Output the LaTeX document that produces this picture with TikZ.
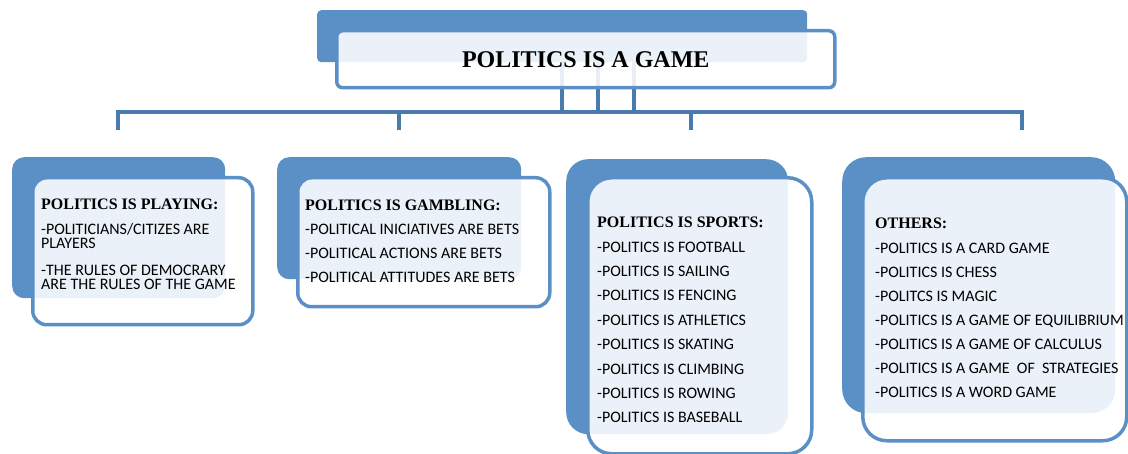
\documentclass[tikz,border=0pt]{standalone}
\usepackage{fontspec}
\setmainfont{Carlito}
\newfontfamily\headfont{Liberation Serif}
\usetikzlibrary{positioning}
\definecolor{gameblue}{RGB}{91,144,198}
\definecolor{busblue}{RGB}{74,123,174}
\tikzstyle{boxback}=[rectangle, fill=gameblue, rounded corners=12pt, anchor=north west, inner sep=0pt]
\tikzstyle{boxfront}=[rectangle, draw=gameblue, line width=3.5pt, fill=white, fill opacity=0.88,
text opacity=1, rounded corners=14pt, anchor=north west, inner sep=0pt]
\tikzstyle{busline}=[draw=busblue, line width=3.5pt]
\tikzstyle{itemlist}=[anchor=base west, inner sep=0pt]
\newcommand{\headline}[1]{{\headfont\bfseries #1}}

\begin{document}
\begin{tikzpicture}[x=1pt,y=-1pt]
            \useasboundingbox (0,0) rectangle (1128,454);
            % back plates
            \node (gameback)[boxback, rounded corners=4pt, minimum width=490pt, minimum height=52pt] at (317,10) {};
            \node (playback)[boxback, minimum width=213pt, minimum height=141pt] at (12,157) {};
            \node (gambleback)[boxback, minimum width=244pt, minimum height=122pt] at (277,157) {};
            \node (sportback)[boxback, rounded corners=22pt, minimum width=222pt, minimum height=275pt] at (566,159) {};
            \node (otherback)[boxback, rounded corners=24pt, minimum width=273pt, minimum height=256pt] at (842,157) {};
            % connectors
            \coordinate (hub) at (599,112);
            \coordinate (playdrop) at (118,130);
            \coordinate (gambledrop) at (399,130);
            \coordinate (sportdrop) at (691,130);
            \coordinate (otherdrop) at (1022,130);
            \draw [busline] (playdrop) |- (hub) -| (otherdrop);
            \draw [busline] (gambledrop) -- (gambledrop |- hub);
            \draw [busline] (sportdrop) -- (sportdrop |- hub);
            \draw [busline] (gameback.south) -- (gameback.south |- hub);
            \draw [busline] ([xshift=36pt]gameback.south) -- ([xshift=36pt]gameback.south |- hub);
            \draw [busline] ([xshift=72pt]gameback.south) -- ([xshift=72pt]gameback.south |- hub);
            % front plates
            \node (game)[boxfront, rounded corners=6pt, minimum width=498pt, minimum height=57pt,
                font=\headfont\bfseries\fontsize{24}{28}\selectfont] at (335,29) {POLITICS IS A GAME};
            \node (play)[boxfront, minimum width=220pt, minimum height=147pt] at (31,176) {};
            \node (gamble)[boxfront, minimum width=252pt, minimum height=129pt] at (296,176) {};
            \node (sport)[boxfront, rounded corners=24pt, minimum width=224pt, minimum height=276pt] at (586,176) {};
            \node (other)[boxfront, rounded corners=24pt, minimum width=264pt, minimum height=263pt] at (861,176) {};
            % texts
            \node (playtext)[itemlist] at (41,210)
                {\parbox[t]{220pt}{\fontsize{16}{13.5}\selectfont
                \headline{POLITICS IS PLAYING:}\\[11.5pt]
                -POLITICIANS/CITIZES ARE\\
                PLAYERS\\[14pt]
                -THE RULES OF DEMOCRARY\\
                ARE THE RULES OF THE GAME}};
            \node (gambletext)[itemlist] at (305,211)
                {\parbox[t]{250pt}{\fontsize{16}{24}\selectfont
                \headline{POLITICS IS GAMBLING:}\\
                -POLITICAL INICIATIVES ARE BETS\\
                -POLITICAL ACTIONS ARE BETS\\
                -POLITICAL ATTITUDES ARE BETS}};
            \node (sporttext)[itemlist] at (597,227.7)
                {\parbox[t]{220pt}{\fontsize{16}{24.4}\selectfont
                \headline{POLITICS IS SPORTS:}\\
                -POLITICS IS FOOTBALL\\
                -POLITICS IS SAILING\\
                -POLITICS IS FENCING\\
                -POLITICS IS ATHLETICS\\
                -POLITICS IS SKATING\\
                -POLITICS IS CLIMBING\\
                -POLITICS IS ROWING\\
                -POLITICS IS BASEBALL}};
            \node (othertext)[itemlist] at (875,229)
                {\parbox[t]{260pt}{\fontsize{16}{24.1}\selectfont
                \headline{OTHERS:}\\
                -POLITICS IS A CARD GAME\\
                -POLITICS IS CHESS\\
                -POLITCS IS MAGIC\\
                -POLITICS IS A GAME OF EQUILIBRIUM\\
                -POLITICS IS A GAME OF CALCULUS\\
                -POLITICS IS A GAME\ \ OF\ \ STRATEGIES\\
                -POLITICS IS A WORD GAME}};
        \end{tikzpicture}
\end{document}
